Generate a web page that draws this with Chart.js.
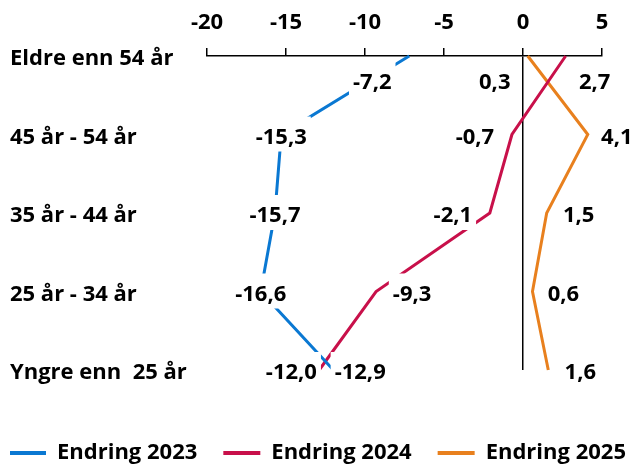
<!DOCTYPE html>
<html><head><meta charset="utf-8">
<script src="https://cdn.jsdelivr.net/npm/chart.js@4/dist/chart.umd.min.js"></script>
<style>html,body{margin:0;padding:0;background:#fff}</style>
</head><body>
<canvas id="c" width="635" height="465"></canvas>
<script>
const categories = ['Eldre enn 54 år', '45 år - 54 år', '35 år - 44 år', '25 år - 34 år', 'Yngre enn  25 år'];
const seriesNames = ['Endring 2023', 'Endring 2024', 'Endring 2025'];
const values2023 = [-7.2, -15.3, -15.7, -16.6, -12.0];
const values2024 = [2.7, -0.7, -2.1, -9.3, -12.9];
const values2025 = [0.3, 4.1, 1.5, 0.6, 1.6];
const xTickValues = [-20, -15, -10, -5, 0, 5];

const colors = ['#0A78D2', '#C8104A', '#E8801E'];
// label placement relative to each point (pixels)
const labelOffsets = [
  [[-37, 27], [0, 3], [0, 3], [0, 3], [-42, 3]],
  [[29, 27], [-37, 3], [-37, 3], [36, 3], [41, 3]],
  [[-33, 27], [29, 3], [32, 3], [31, 3], [32, 3]]
];
const FONT = '"Open Sans"';
const LEGEND_START = 9;

const fmt = v => v.toFixed(1).replace('.', ',');

const labelPlugin = {
  id: 'pointLabels',
  afterDatasetsDraw(chart) {
    const ctx = chart.ctx;
    ctx.save();
    ctx.font = 'bold 22px ' + FONT;
    ctx.textAlign = 'center';
    ctx.textBaseline = 'middle';
    chart.data.datasets.forEach((ds, di) => {
      const meta = chart.getDatasetMeta(di);
      meta.data.forEach((pt, i) => {
        const t = fmt(ds.data[i]);
        const x = pt.x + labelOffsets[di][i][0];
        const y = pt.y + labelOffsets[di][i][1];
        const w = ctx.measureText(t).width;
        ctx.fillStyle = '#fff';
        ctx.fillRect(x - w / 2 - 4, y - 21, w + 8, 35);
        ctx.fillStyle = '#000';
        ctx.fillText(t, x, y);
      });
    });
    ctx.restore();
  }
};

const legendPatch = {
  id: 'legendPatch',
  beforeLayout(chart) {
    const lg = chart.legend;
    if (lg && !lg._patched) {
      lg._patched = true;
      const origFit = lg.fit;
      lg.fit = function () {
        const mw = this.maxWidth;
        this.maxWidth = 5000;
        origFit.call(this);
        this.maxWidth = mw;
        this.width = mw;
      };
      const origDraw = lg._draw;
      lg._draw = function () {
        const l = this.left, r = this.right;
        const pad = this.options.labels.padding;
        this.left = LEGEND_START - pad;
        this.right = 5000;
        origDraw.call(this);
        this.left = l; this.right = r;
      };
    }
  }
};

new Chart(document.getElementById('c'), {
  type: 'line',
  data: {
    labels: categories,
    datasets: [values2023, values2024, values2025].map((d, i) => ({
      label: seriesNames[i],
      data: d,
      borderColor: colors[i],
      backgroundColor: colors[i],
      borderWidth: 3,
      pointRadius: 0,
      tension: 0,
      fill: false,
      clip: false
    }))
  },
  options: {
    responsive: false,
    animation: false,
    indexAxis: 'y',
    layout: { padding: { left: 10, right: 0, top: 0, bottom: 0 } },
    scales: {
      x: {
        type: 'linear',
        position: 'top',
        min: -20, max: 5,
        afterBuildTicks(s) { s.ticks = xTickValues.map(v => ({ value: v })); },
        afterFit(s) { s.height = 56; },
        ticks: { color: '#000', font: { family: FONT, weight: 'bold', size: 22 }, padding: 12, callback: v => String(v), maxRotation: 0, autoSkip: false },
        grid: {
          drawOnChartArea: true,
          color: c => (c.tick && c.tick.value === 0) ? '#000' : 'rgba(0,0,0,0)',
          tickColor: '#000',
          tickLength: 8,
          lineWidth: 1.5
        },
        border: { display: true, color: '#000', width: 1.5 }
      },
      y: {
        type: 'category',
        position: 'left',
        offset: false,
        afterFit(s) { s.width = 197; },
        ticks: { color: '#000', font: { family: FONT, weight: 'bold', size: 22 }, crossAlign: 'far', padding: 0, labelOffset: 3, autoSkip: false },
        grid: { display: false },
        border: { display: false }
      },
      yRight: {
        type: 'linear',
        position: 'right',
        display: true,
        afterFit(s) { s.width = 33; },
        ticks: { display: false },
        grid: { display: false },
        border: { display: false }
      }
    },
    plugins: {
      legend: {
        position: 'bottom',
        align: 'start',
        maxHeight: 95,
        title: { display: true, text: ' ', padding: 17, font: { size: 10 } },
        labels: {
          color: '#000',
          font: { family: FONT, weight: 'bold', size: 22 },
          boxWidth: 37,
          boxHeight: 4,
          padding: 26,
          generateLabels(chart) {
            const items = Chart.defaults.plugins.legend.labels.generateLabels(chart);
            items.forEach(it => { it.fillStyle = it.strokeStyle; it.lineWidth = 0; });
            return items;
          }
        }
      },
      tooltip: { enabled: false }
    }
  },
  plugins: [labelPlugin, legendPatch]
});
</script>
</body></html>
